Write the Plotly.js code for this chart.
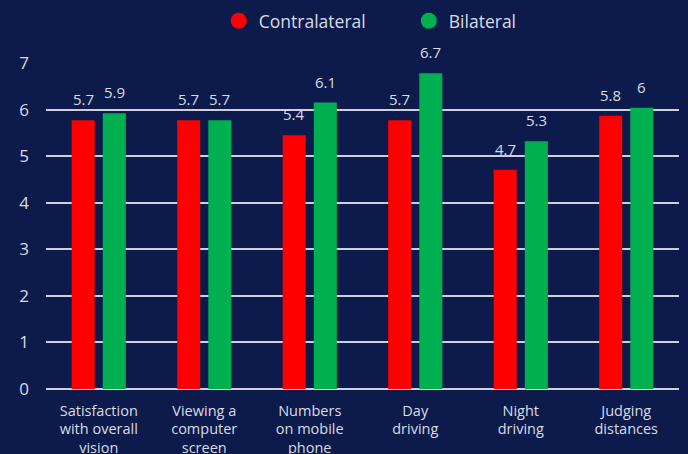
<!DOCTYPE html>
<html>
<head>
<meta charset="utf-8">
<script src="https://cdn.plot.ly/plotly-3.0.1.min.js"></script>
<style>html,body{margin:0;padding:0;background:#0d1b4c;}#chart{width:688px;height:454px;}</style>
</head>
<body>
<div id="chart"></div>
<script>
var categories = ["Satisfaction<br>with overall<br>vision", "Viewing a<br>computer<br>screen", "Numbers<br>on mobile<br>phone", "Day<br>driving", "Night<br>driving", "Judging<br>distances"];
var contralateral = [5.77, 5.77, 5.45, 5.77, 4.71, 5.87];
var bilateral = [5.92, 5.77, 6.15, 6.78, 5.32, 6.04];
var contralateralLabels = ["5.7", "5.7", "5.4", "5.7", "4.7", "5.8"];
var bilateralLabels = ["5.9", "5.7", "6.1", "6.7", "5.3", "6"];
var seriesNames = ["Contralateral", "Bilateral"];
var colors = ["#ff0000", "#00b050"];

var fontFam = "'Open Sans', sans-serif";
var textColor = "#d9dce4";

var traces = [
  {type: "bar", x: categories, y: contralateral, name: seriesNames[0], marker: {color: colors[0]}, showlegend: false, hoverinfo: "skip"},
  {type: "bar", x: categories, y: bilateral, name: seriesNames[1], marker: {color: colors[1]}, showlegend: false, hoverinfo: "skip"},
  {type: "scatter", mode: "markers", x: [null], y: [null], name: seriesNames[0], marker: {color: colors[0], size: 16, symbol: "circle"}},
  {type: "scatter", mode: "markers", x: [null], y: [null], name: seriesNames[1], marker: {color: colors[1], size: 16, symbol: "circle"}}
];

var annotations = [];
categories.forEach(function (c, i) {
  annotations.push({x: c, y: contralateral[i], text: contralateralLabels[i], xref: "x", yref: "y", showarrow: false, xshift: -15.5, yshift: 21, font: {family: fontFam, size: 15, color: textColor}});
  annotations.push({x: c, y: bilateral[i], text: bilateralLabels[i], xref: "x", yref: "y", showarrow: false, xshift: 15.5, yshift: 21, font: {family: fontFam, size: 15, color: textColor}});
});

var layout = {
  width: 688, height: 454,
  paper_bgcolor: "#0d1b4c", plot_bgcolor: "#0d1b4c",
  margin: {l: 46, r: 9, t: 63, b: 65, autoexpand: false},
  barmode: "group", bargap: 0.41, bargroupgap: 0.26,
  font: {family: fontFam, color: textColor},
  showlegend: true,
  legend: {orientation: "h", x: 0.273, xanchor: "left", xref: "paper", y: 0.954, yref: "container", yanchor: "middle", font: {family: fontFam, size: 17.5, color: textColor}, bgcolor: "rgba(0,0,0,0)", entrywidth: 145, entrywidthmode: "pixels"},
  xaxis: {type: "category", showgrid: false, zeroline: false, showline: false, ticks: "", tickfont: {family: fontFam, size: 14.5, color: textColor}, ticklabelstandoff: 11},
  yaxis: {range: [0, 7], dtick: 1, showgrid: true, gridcolor: "#cdd0da", gridwidth: 2, zeroline: true, zerolinecolor: "#cdd0da", zerolinewidth: 2, showline: false, ticks: "", tickfont: {family: fontFam, size: 17, color: textColor}, ticklabelstandoff: 16},
  annotations: annotations
};

Plotly.newPlot("chart", traces, layout, {displayModeBar: false, staticPlot: true});
</script>
</body>
</html>
